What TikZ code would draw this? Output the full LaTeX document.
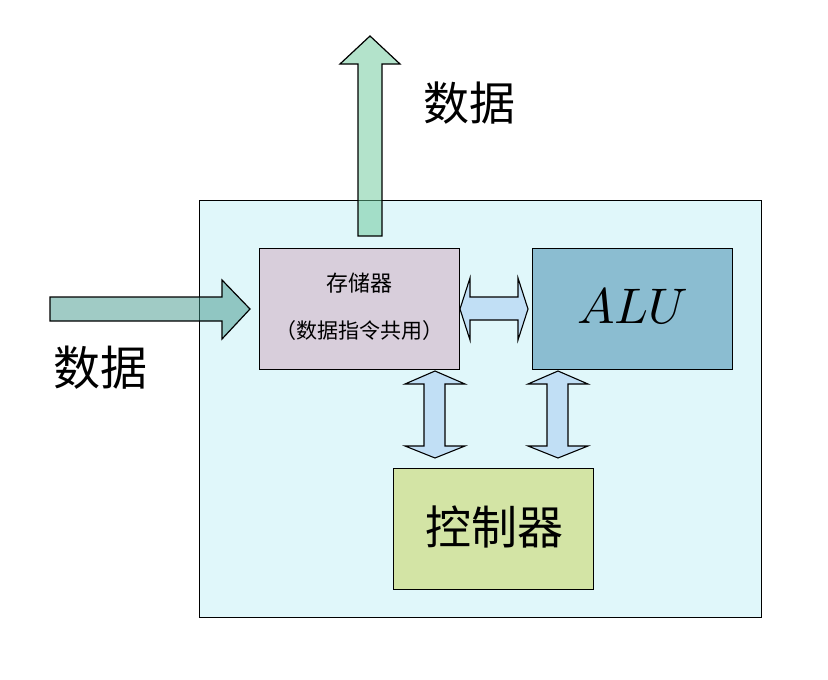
\documentclass[tikz,border=0pt]{standalone}
\usepackage{graphicx}
\usepackage{fontspec}
\newfontfamily\cjk{Noto Sans CJK SC}
\begin{document}
\begin{tikzpicture}[x=1pt,y=-1pt,
  blk/.style={draw=black,line width=1.2pt,minimum width=200pt,minimum height=121pt,inner sep=0pt},
  darrow/.style={draw=black,line width=1.1pt,fill=arrowblue,line join=miter},
  bigarrow/.style={draw=black,line width=1.2pt,fill opacity=0.5}]
\definecolor{bgcyan}{RGB}{224,247,250}
\definecolor{memfill}{RGB}{216,206,219}
\definecolor{alufill}{RGB}{139,189,209}
\definecolor{ctlfill}{RGB}{211,228,165}
\definecolor{arrowblue}{RGB}{193,223,245}
\definecolor{upgreen}{RGB}{103,199,151}
\definecolor{inteal}{RGB}{65,151,139}
\useasboundingbox (0,0) rectangle (828,680);
% outer box
\node[draw=black,line width=1.2pt,fill=bgcyan,minimum width=562pt,minimum height=417pt,inner sep=0pt,anchor=north west] (cpu) at (199,200) {};
% blocks
\node[blk,fill=memfill,anchor=north west] (mem) at (259,248) {};
\node[font=\cjk\fontsize{22}{25}\selectfont] (memt1) at (359,283) {存储器};
\node[font=\cjk\fontsize{21}{25}\selectfont] (memt2) at (359,331) {（数据指令共用）};
\node[blk,fill=alufill,anchor=north west] (alu) at (532,248) {};
\node (alut) at (633,306) {\scalebox{5}{$ALU$}};
\node[blk,fill=ctlfill,anchor=north west] (ctl) at (393,468) {};
\node[font=\cjk\fontsize{46}{50}\selectfont] (ctlt) at (494,527) {控制器};
% top output arrow
\draw[bigarrow,fill=upgreen] (358,236) -- (358,64) -- (340,64) -- (370,36) -- (400,64) -- (382,64) -- (382,236) -- cycle;
\node[font=\cjk\fontsize{46}{50}\selectfont] (outlbl) at (469,103) {数据};
% left input arrow
\draw[bigarrow,fill=inteal] (50,297) -- (222,297) -- (222,280) -- (250,309) -- (222,339) -- (222,321) -- (50,321) -- cycle;
\node[font=\cjk\fontsize{47}{50}\selectfont] (inlbl) at (100,368) {数据};
% horizontal double arrow mem <-> alu
\draw[darrow] (460,309) -- (470,278) -- (470,297) -- (518,297) -- (518,278) -- (528,309) -- (518,340) -- (518,320) -- (470,320) -- (470,340) -- cycle;
% vertical double arrow mem <-> ctl
\draw[darrow] (435,371) -- (465,384) -- (445,384) -- (445,446) -- (465,446) -- (435,458) -- (405,446) -- (424,446) -- (424,384) -- (405,384) -- cycle;
% vertical double arrow alu <-> ctl
\draw[darrow] (558,371) -- (588,384) -- (568,384) -- (568,446) -- (588,446) -- (558,458) -- (528,446) -- (547,446) -- (547,384) -- (528,384) -- cycle;
\end{tikzpicture}
\end{document}
